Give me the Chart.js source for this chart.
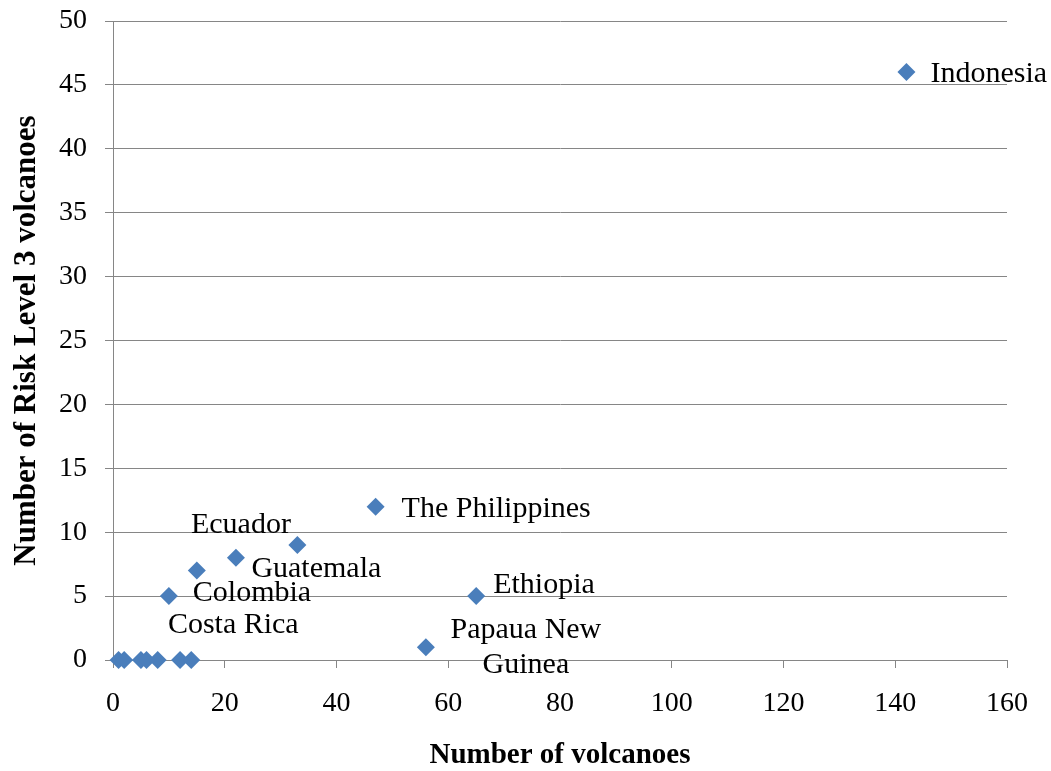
<!DOCTYPE html>
<html>
<head>
<meta charset="utf-8">
<script src="https://cdn.jsdelivr.net/npm/chart.js@4.4.1/dist/chart.umd.min.js"></script>
<style>
  html, body { margin: 0; padding: 0; background: #ffffff; }
  canvas { display: block; }
</style>
</head>
<body>
<canvas id="chart" width="1051" height="771"></canvas>
<script>
// Volcanoes per country vs. how many of them are Risk Level 3
const volcanoCounts = [142, 47, 65, 56, 33, 22, 15, 10, 1, 2, 5, 6, 8, 12, 14];
const riskLevel3    = [46, 12, 5, 1, 9, 8, 7, 5, 0, 0, 0, 0, 0, 0, 0];
const countryNames  = ['Indonesia', 'The Philippines', 'Ethiopia', ['Papaua New', 'Guinea'],
                       'Guatemala', 'Ecuador', 'Colombia', 'Costa Rica',
                       '', '', '', '', '', '', ''];
const xTickValues = [0, 20, 40, 60, 80, 100, 120, 140, 160];
const yTickValues = [0, 5, 10, 15, 20, 25, 30, 35, 40, 45, 50];

// Where each country name sits relative to its marker: [dx, dy to baseline, align]
const labelLayout = [
  [24, 10, 'left'], [26, 10, 'left'], [17, -3, 'left'], [100, -9, 'center'],
  [-46, 32, 'left'], [-45, -25, 'left'], [-4, 30, 'left'], [-1, 37, 'left']
];

const SERIF = '"Liberation Serif", "Times New Roman", serif';
const GRID = '#868686';

const countryLabels = {
  id: 'countryLabels',
  afterDatasetsDraw(chart) {
    const { ctx } = chart;
    const meta = chart.getDatasetMeta(0);
    ctx.save();
    ctx.font = '30px ' + SERIF;
    ctx.fillStyle = '#000000';
    ctx.textBaseline = 'alphabetic';
    meta.data.forEach((pt, i) => {
      const name = countryNames[i];
      if (!name || !labelLayout[i]) return;
      const [dx, dy, align] = labelLayout[i];
      const lines = Array.isArray(name) ? name : [name];
      ctx.textAlign = align;
      lines.forEach((line, k) => ctx.fillText(line, pt.x + dx, pt.y + dy + k * 35));
    });
    ctx.restore();
  }
};

new Chart(document.getElementById('chart'), {
  type: 'scatter',
  data: {
    datasets: [{
      data: volcanoCounts.map((v, i) => ({ x: v, y: riskLevel3[i] })),
      pointStyle: 'rectRot',
      pointRadius: 9,
      pointHoverRadius: 9,
      backgroundColor: '#4a7ebb',
      borderColor: '#4a7ebb',
      borderWidth: 0,
      clip: false
    }]
  },
  options: {
    responsive: false,
    animation: false,
    devicePixelRatio: 1,
    layout: { padding: { left: 0, top: 21, right: 44, bottom: 0 } },
    plugins: { legend: { display: false }, tooltip: { enabled: false } },
    scales: {
      x: {
        type: 'linear',
        min: 0, max: 160,
        afterBuildTicks: s => { s.ticks = xTickValues.map(v => ({ value: v })); },
        afterFit: s => { s.height = 111; s.paddingLeft = 0; s.paddingRight = 0; },
        ticks: { font: { family: SERIF, size: 28 }, color: '#000000', padding: 19, maxRotation: 0 },
        grid: { drawOnChartArea: false, drawTicks: true, tickLength: 8, color: GRID, tickColor: GRID },
        border: { color: GRID, width: 1 },
        title: {
          display: true, text: 'Number of volcanoes', color: '#000000',
          font: { family: SERIF, size: 29, weight: 'bold', lineHeight: 1.1 },
          padding: { top: 0, bottom: 0 }
        }
      },
      y: {
        type: 'linear',
        min: 0, max: 50,
        afterBuildTicks: s => { s.ticks = yTickValues.map(v => ({ value: v })); },
        afterFit: s => { s.width = 113; s.paddingTop = 0; s.paddingBottom = 0; },
        ticks: { font: { family: SERIF, size: 28 }, color: '#000000', padding: 18 },
        grid: { color: GRID, tickLength: 8, tickColor: GRID },
        border: { color: GRID, width: 1 },
        title: {
          display: true, text: 'Number of Risk Level 3 volcanoes', color: '#000000',
          font: { family: SERIF, size: 31, weight: 'bold', lineHeight: 1.1 },
          padding: { top: 10, bottom: 0 }
        }
      }
    }
  },
  plugins: [countryLabels]
});
</script>
</body>
</html>
